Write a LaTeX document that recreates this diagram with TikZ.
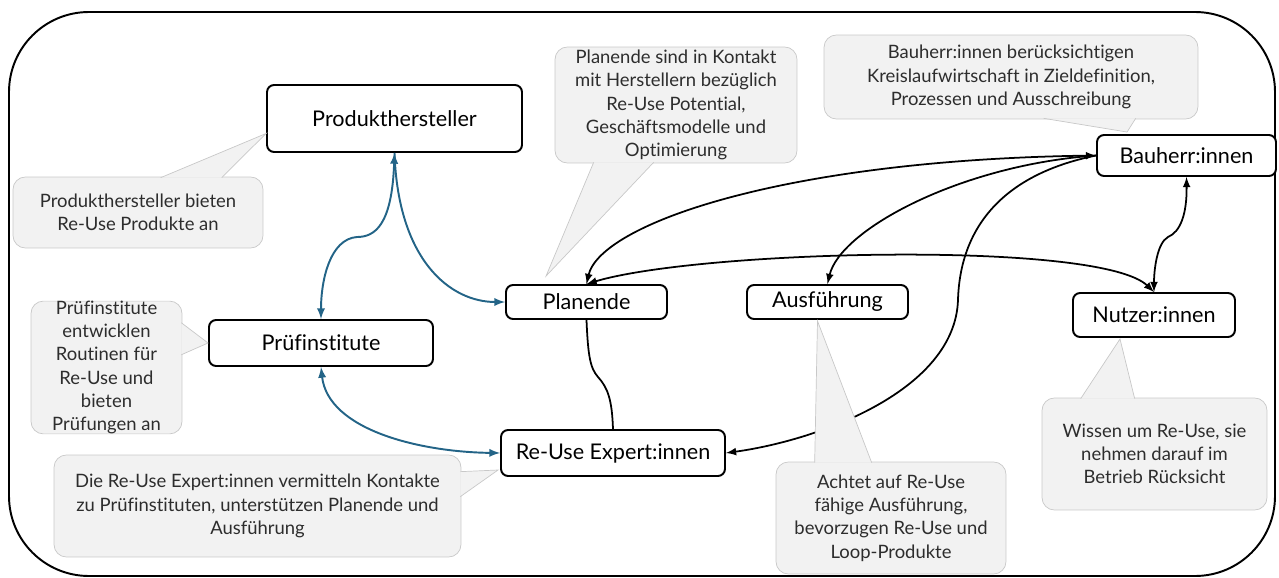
\documentclass[tikz,border=0pt]{standalone}
\usepackage{fontspec}
\setmainfont{Lato}[Ligatures=NoCommon]
\usetikzlibrary{calc}
\definecolor{linkblue}{RGB}{35,100,135}
\definecolor{notegray}{RGB}{242,242,242}
\definecolor{noteedge}{RGB}{200,200,200}
\definecolor{notetext}{RGB}{45,45,45}

\begin{document}
\begin{tikzpicture}[x=0.02cm, y=-0.02cm, >=latex,
    actor/.style={draw, line width=1.1pt, rounded corners=4pt, fill=white, inner sep=0pt, font=\fontsize{12.3}{14}\selectfont},
    note/.style={draw=noteedge, fill=notegray, rounded corners=7pt, inner sep=0pt, align=center, text=notetext, font=\fontsize{10.5}{13.2}\selectfont},
    pointer/.style={draw=noteedge, fill=notegray},
    link/.style={line width=1pt},
    bluelink/.style={line width=1.1pt, draw=linkblue}]
  \useasboundingbox (0,0) rectangle (1279,578);

  % frame
  \draw[line width=1.1pt, rounded corners=1.6cm] (9,12) rectangle (1275,576);

  % actors
  \node[actor, minimum width=5.1cm, minimum height=1.34cm] (prod) at (394.5,118.5) {Produkthersteller};
  \node[actor, minimum width=4.48cm, minimum height=0.92cm] (pruef) at (321,343) {Prüfinstitute};
  \node[actor, minimum width=3.22cm, minimum height=0.68cm] (plan) at (586.5,302) {Planende};
  \node[actor, minimum width=3.22cm, minimum height=0.68cm] (ausf) at (827.5,302) {Ausführung};
  \node[actor, minimum width=3.58cm, minimum height=0.82cm] (bau) at (1186.5,155.5) {Bauherr:innen};
  \node[actor, minimum width=3.24cm, minimum height=0.88cm] (nutz) at (1154,315) {Nutzer:innen};
  \node[actor, minimum width=4.48cm, minimum height=0.92cm] (expert) at (613,453) {Re-Use Expert:innen};

  % blue links
  \draw[bluelink, <->] (prod.south) .. controls (392,225) and (375,237) .. (357,237) .. controls (330,239) and (321,280) .. (pruef.north);
  \draw[bluelink, ->] (prod.south) .. controls (398,260) and (450,302) .. (plan.west);
  \draw[bluelink, <->] (pruef.south) .. controls (328,430) and (420,452) .. (expert.west);

  % black links
  \draw[link] (plan.south) .. controls (588,355) and (590,368) .. (598,377) .. controls (608,388) and (612,400) .. (expert.north);
  \draw[link, <->] (plan.north) .. controls (600,225) and (780,160) .. (bau.west);
  \draw[link, ->] (bau.west) .. controls (960,165) and (840,230) .. (ausf.north);
  \draw[link, ->] (bau.west) .. controls (1000,175) and (960,230) .. (958,300) .. controls (955,390) and (820,440) .. (expert.east);
  \draw[link, <->] (bau.south) .. controls (1187,215) and (1180,232) .. (1168,237) .. controls (1157,243) and (1154,270) .. (nutz.north);
  \draw[link, <->] (plan.north) .. controls (700,250) and (1100,240) .. (nutz.north);

  % notes
  \node[note, minimum width=5cm, minimum height=1.42cm] (nprod) at (138,212.5) {Produkthersteller bieten\\Re-Use Produkte an};
  \draw[pointer] ($(nprod.north west)+(148,1)$) -- ($(prod.west)+(0,15)$) -- ($(nprod.north west)+(209,1)$);

  \node[note, minimum width=3.02cm, minimum height=2.58cm] (npruef) at (106.5,367.5) {Prüfinstitute\\entwicklen\\Routinen für\\Re-Use und\\bieten\\Prüfungen an};
  \draw[pointer] ($(npruef.north east)+(-1,22)$) -- (pruef.west) -- ($(npruef.north east)+(-1,54)$);

  \node[note, minimum width=4.84cm, minimum height=2.32cm] (nplan) at (676,105) {Planende sind in Kontakt\\mit Herstellern bezüglich\\Re-Use Potential,\\Geschäftsmodelle und\\Optimierung};
  \draw[pointer] ($(nplan.south west)+(39,-1)$) -- ($(plan.north west)+(41,-8)$) -- ($(nplan.south west)+(99,-1)$);

  \node[note, minimum width=7.48cm, minimum height=1.68cm] (nbau) at (1011,77) {Bauherr:innen berücksichtigen\\Kreislaufwirtschaft in Zieldefinition,\\Prozessen und Ausschreibung};
  \draw[pointer] ($(nbau.south west)+(220,-1)$) -- ($(bau.north west)+(31,-2)$) -- ($(nbau.south west)+(312,-1)$);

  \node[note, minimum width=4.5cm, minimum height=2.24cm] (nnutz) at (1154.5,454) {Wissen um Re-Use, sie\\nehmen darauf im\\Betrieb Rücksicht};
  \draw[pointer] ($(nnutz.north west)+(39,1)$) -- ($(nutz.south)+(-34,1)$) -- ($(nnutz.north west)+(93,1)$);

  \node[note, minimum width=4.6cm, minimum height=2.24cm] (nausf) at (891,518) {Achtet auf Re-Use\\fähige Ausführung,\\bevorzugen Re-Use und\\Loop-Produkte};
  \draw[pointer] ($(nausf.north west)+(39,1)$) -- ($(ausf.south)+(-10,1)$) -- ($(nausf.north west)+(96,1)$);

  \node[note, minimum width=8.14cm, minimum height=2.04cm] (nexpert) at (257.5,506) {Die Re-Use Expert:innen vermitteln Kontakte\\zu Prüfinstituten, unterstützen Planende und\\Ausführung};
  \draw[pointer] ($(nexpert.north east)+(-1,17)$) -- ($(expert.west)+(-2,17)$) -- ($(nexpert.north east)+(-1,42)$);
\end{tikzpicture}
\end{document}
